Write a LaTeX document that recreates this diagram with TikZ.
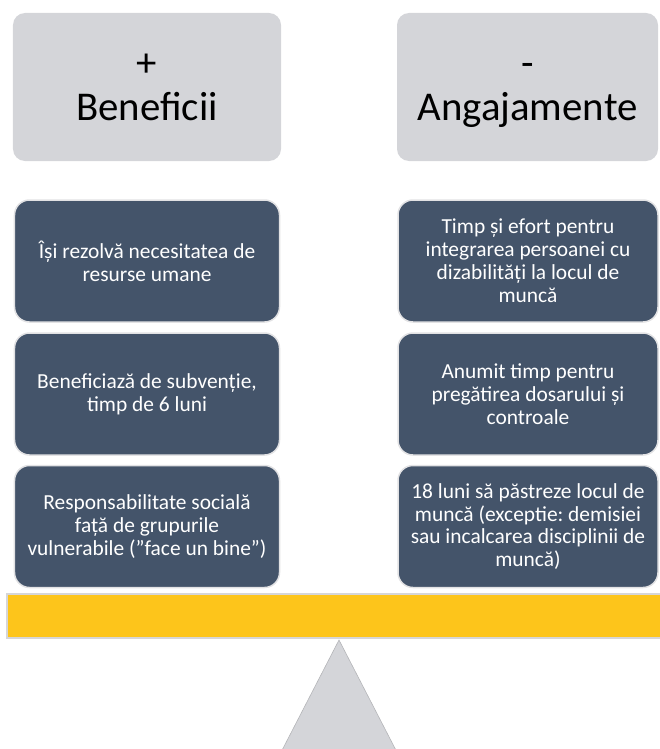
\documentclass[tikz,border=0pt]{standalone}
\usepackage{fontspec}
\setmainfont{Carlito}
\usetikzlibrary{positioning}
\frenchspacing

\definecolor{headgray}{RGB}{212,213,217}
\definecolor{slate}{RGB}{68,84,106}
\definecolor{rimgray}{RGB}{226,226,228}
\definecolor{beamyellow}{RGB}{253,197,27}
\definecolor{beamrim}{RGB}{214,214,216}

\tikzset{
  headbox/.style={fill=headgray, rounded corners=12bp, minimum height=148bp,
    inner sep=0pt, align=center, font=\fontsize{41}{44}\selectfont},
  itembox/.style={fill=slate, draw=rimgray, line width=1.5bp, rounded corners=15bp,
    minimum height=122bp, inner sep=0pt, text=white, align=center,
    font=\fontsize{21.5}{23}\selectfont}
}

\begin{document}
\begin{tikzpicture}[x=1bp,y=-1bp]
  \useasboundingbox (0,0) rectangle (660,749);
  \clip (0,0) rectangle (660,749);

  % headers
  \node[headbox, minimum width=268bp] (benef) at (147,87) {};
  \node[headbox, minimum width=261bp] (angaj) at (527.5,87) {};
  \node[font=\fontsize{41}{44}\selectfont, align=center] (benefText) at (147,90) {\strut+\\\strut Beneficii};
  \node[font=\fontsize{41}{44}\selectfont, align=center] (angajText) at (527.5,90) {\strut-\\\strut Angajamente};

  % benefits
  \node[itembox, minimum width=265bp] (ben1) at (147,261) {Își rezolvă necesitatea de\\resurse umane};
  \node[itembox, minimum width=265bp] (ben2) at (147,394) {Beneficiază de subvenție,\\timp de 6 luni};
  \node[itembox, minimum width=265bp] (ben3) at (147,526.5) {Responsabilitate socială\\față de grupurile\\vulnerabile (”face un bine”)};

  % commitments
  \node[itembox, minimum width=260bp] (ang1) at (528,261) {Timp și efort pentru\\integrarea persoanei cu\\dizabilități la locul de\\muncă};
  \node[itembox, minimum width=260bp] (ang2) at (528,394) {Anumit timp pentru\\pregătirea dosarului și\\controale};
  \node[itembox, minimum width=260bp] (ang3) at (528,526.5) {18 luni să păstreze locul de\\muncă (exceptie: demisiei\\sau incalcarea disciplinii de\\muncă)};

  % beam and pivot
  \draw[draw=beamrim, fill=beamyellow, line width=2bp] (7,594) rectangle (675,638);
  \draw[draw=headgray!85!black, fill=headgray, line width=0.6bp] (339,640) -- (277,760) -- (401,760) -- cycle;

\end{tikzpicture}
\end{document}
